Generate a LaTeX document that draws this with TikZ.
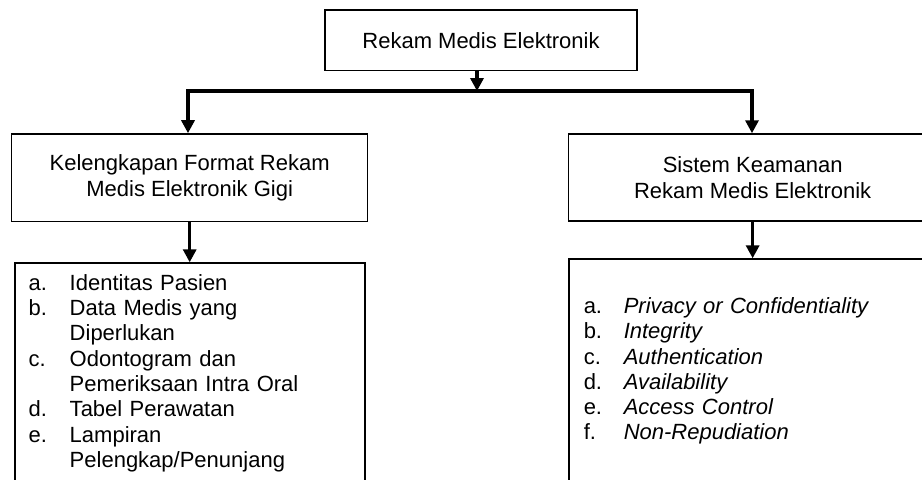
\documentclass[tikz,border=0pt]{standalone}
\usepackage{fontspec}
\setmainfont{Liberation Sans}
\usetikzlibrary{arrows.meta,calc}

\begin{document}
\begin{tikzpicture}[x=0.5pt,y=-0.5pt,>={Triangle[width=6.5pt,length=6.5pt]},
	box/.style={draw,line width=0.75pt,rectangle,inner sep=0pt,align=center,
		font=\fontsize{11}{13.2}\selectfont},
	listbox/.style={draw,line width=0.75pt,rectangle,anchor=north west,inner ysep=0pt,
		font=\fontsize{11}{12.65}\selectfont,text depth=120pt},
	conn/.style={line width=1.75pt}
	]
	\useasboundingbox (0,0) rectangle (922,479);

	% boxes
	\node[box,minimum width=156pt,minimum height=30.25pt] (rme) at (481,40.3) {Rekam Medis Elektronik};

	\node[box,minimum width=178pt,minimum height=43.85pt] (kel) at (189.7,177.8) {Kelengkapan Format Rekam\\Medis Elektronik Gigi};
	\node[box,minimum width=184.35pt,minimum height=43.5pt] (kam) at (752.65,177.5) {Sistem Keamanan\\Rekam Medis Elektronik};

	\node[listbox,inner xsep=7pt,text width=161.15pt,text height=13.65pt] (kelList) at (14,262.3) {%
		\begin{tabular}[t]{@{}p{20.5pt}@{}l@{}}
			a. & Identitas Pasien\\
			b. & Data Medis yang\\
			   & Diperlukan\\
			c. & Odontogram dan\\
			   & Pemeriksaan Intra Oral\\
			d. & Tabel Perawatan\\
			e. & Lampiran\\
			   & Pelengkap/Penunjang
		\end{tabular}};

	\node[listbox,inner xsep=7.35pt,text width=169.6pt,text height=27.2pt] (kamList) at (568.3,258.3) {%
		\begin{tabular}[t]{@{}p{20pt}@{}l@{}}
			a. & \textit{Privacy or Confidentiality}\\
			b. & \textit{Integrity}\\
			c. & \textit{Authentication}\\
			d. & \textit{Availability}\\
			e. & \textit{Access Control}\\
			f. & \textit{Non-Repudiation}
		\end{tabular}};

	% connectors
	\coordinate (busM) at (477,91);
	\coordinate (busL) at (188,91);
	\coordinate (busR) at (752,91);

	\draw[conn,->] (rme.south -| busM) -- (busM);
	\draw[conn,<->] (busL |- kel.north) -- (busL) -- (busR) -- (busR |- kam.north);

	\draw[conn,->] (kel.south) -- (kel.south |- kelList.north);
	\draw[conn,->] (kam.south) -- (kam.south |- kamList.north);

\end{tikzpicture}
\end{document}
